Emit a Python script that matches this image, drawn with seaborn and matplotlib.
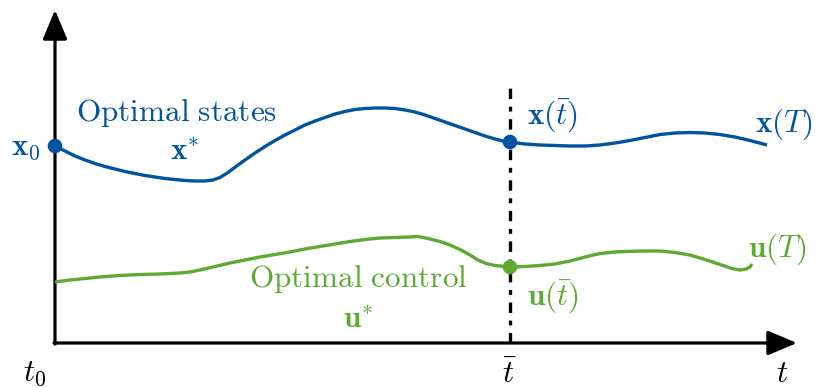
import numpy as np
import pandas as pd
import matplotlib
matplotlib.use("Agg")
import matplotlib.pyplot as plt
import seaborn as sns

sns.set_theme(style="white")
plt.rcParams["mathtext.fontset"] = "cm"
plt.rcParams["lines.scale_dashes"] = False

BLUE = "#00539F"
GREEN = "#5DAA32"

# Optimal state trajectory x*(t)
t_state = [0, 10, 20, 30, 40, 50, 60, 70, 80, 90, 100, 110, 120, 130, 140, 150,
           158, 165, 173, 181, 190, 200, 210, 220, 230, 240, 250, 260, 270, 280,
           290, 300, 310, 320, 330, 340, 350, 360, 370, 380, 390, 400, 410, 420,
           430, 440, 448, 455, 462, 470, 485, 500, 515, 530, 545, 560, 575, 590,
           605, 620, 635, 650, 665, 680, 695, 712]
x_state = [197, 192, 187, 183, 179.5, 176.5, 174, 171.5, 169.5, 167.5, 166, 164.5,
           163.5, 162.5, 162, 162, 163, 165.5, 170.5, 176.5, 183, 190, 196.5,
           202.5, 208, 213, 218, 222, 225.5, 229, 231.5, 233.5, 234.5, 235, 235,
           234.5, 233, 231, 228, 224.5, 221, 217.5, 214, 210.5, 207, 204, 202,
           201, 200, 199, 198, 197.5, 197, 197, 198, 200, 202.5, 205.5, 208.5,
           210, 210.5, 210, 208.5, 206, 202.5, 198]

# Optimal control trajectory u*(t)
t_ctrl = [0, 15, 30, 45, 65, 85, 105, 125, 135, 145, 160, 175, 190, 205, 220, 235,
          250, 265, 280, 295, 310, 325, 340, 355, 363, 373, 385, 395, 405, 415,
          423, 431, 440, 455, 470, 485, 500, 515, 530, 545, 560, 575, 590, 605,
          620, 635, 650, 665, 677, 685, 691, 695, 697]
u_ctrl = [61, 63, 64.5, 66, 67.5, 68.5, 69, 70, 71, 73, 76.5, 80, 83, 86, 88.5,
          91, 94, 96.5, 99, 101.5, 103.5, 105, 105.5, 106, 106.5, 104.5, 101.5, 98,
          93.5, 88, 83, 79.5, 77.5, 76, 76.5, 77.5, 79, 82, 86, 89.5, 91, 91.7, 92,
          92, 90.5, 88, 83.5, 78.5, 74.5, 73, 74, 76, 79]

t_bar = 455          # intermediate time
t_end = 742          # end of the time axis
y_top = 333          # end of the value axis

fig = plt.figure(figsize=(8.21, 3.88), dpi=100)
ax = fig.add_axes([0, 0, 1, 1])
ax.set_xlim(-55, 766)
ax.set_ylim(-45, 343)
ax.axis("off")

# coordinate axes with arrowheads
arrow = dict(arrowstyle="-|>,head_length=1.0,head_width=0.42", mutation_scale=18,
             lw=2.3, color="black", shrinkA=0, shrinkB=0)
ax.annotate("", xy=(t_end, 0), xytext=(-1, 0), arrowprops=arrow)
ax.annotate("", xy=(0, y_top), xytext=(0, -1), arrowprops=arrow)

# dash-dotted marker of the intermediate time
ax.plot([t_bar, t_bar], [0, 258], color="black", lw=2.4,
        linestyle=(0, (7.5, 5.5, 3.5, 5.5)), zorder=1)

df_x = pd.DataFrame({"t": t_state, "v": x_state})
df_u = pd.DataFrame({"t": t_ctrl, "v": u_ctrl})
for df, col in ((df_x, BLUE), (df_u, GREEN)):
    sns.lineplot(data=df, x="t", y="v", sort=False, color=col, lw=2.4, ax=ax,
                 zorder=3, solid_joinstyle="round", solid_capstyle="butt")

# initial state and values at the intermediate time
pts = pd.DataFrame({
    "t": [t_state[0], t_bar, t_bar],
    "v": [x_state[0], x_state[t_state.index(t_bar)], u_ctrl[t_ctrl.index(t_bar)]],
    "c": ["x", "x", "u"],
})
sns.scatterplot(data=pts, x="t", y="v", hue="c", palette={"x": BLUE, "u": GREEN},
                s=110, edgecolor="none", legend=False, ax=ax, zorder=4)

fs = 22.5
ax.text(-14, 196, r"$\mathbf{x}_0$", color=BLUE, fontsize=fs, ha="right", va="center")
ax.text(122, 230, r"$\mathrm{Optimal\ states}$", color=BLUE, fontsize=fs, ha="center", va="center")
ax.text(130, 191, r"$\mathbf{x}^{*}$", color=BLUE, fontsize=fs, ha="center", va="center")
ax.text(472, 227, r"$\mathbf{x}(\bar{t})$", color=BLUE, fontsize=fs, ha="left", va="center")
ax.text(700, 219, r"$\mathbf{x}(T)$", color=BLUE, fontsize=fs, ha="left", va="center")
ax.text(693, 94, r"$\mathbf{u}(T)$", color=GREEN, fontsize=fs, ha="left", va="center")
ax.text(472, 46, r"$\mathbf{u}(\bar{t})$", color=GREEN, fontsize=fs, ha="left", va="center")
ax.text(303, 64, r"$\mathrm{Optimal\ control}$", color=GREEN, fontsize=fs, ha="center", va="center")
ax.text(303, 24, r"$\mathbf{u}^{*}$", color=GREEN, fontsize=fs, ha="center", va="center")
ax.text(-20, -30, r"$t_0$", color="black", fontsize=fs, ha="center", va="center")
ax.text(t_bar, -30, r"$\bar{t}$", color="black", fontsize=fs, ha="center", va="center")
ax.text(727, -30, r"$t$", color="black", fontsize=fs, ha="center", va="center")

fig.savefig("out.png", dpi=100, facecolor="white")
